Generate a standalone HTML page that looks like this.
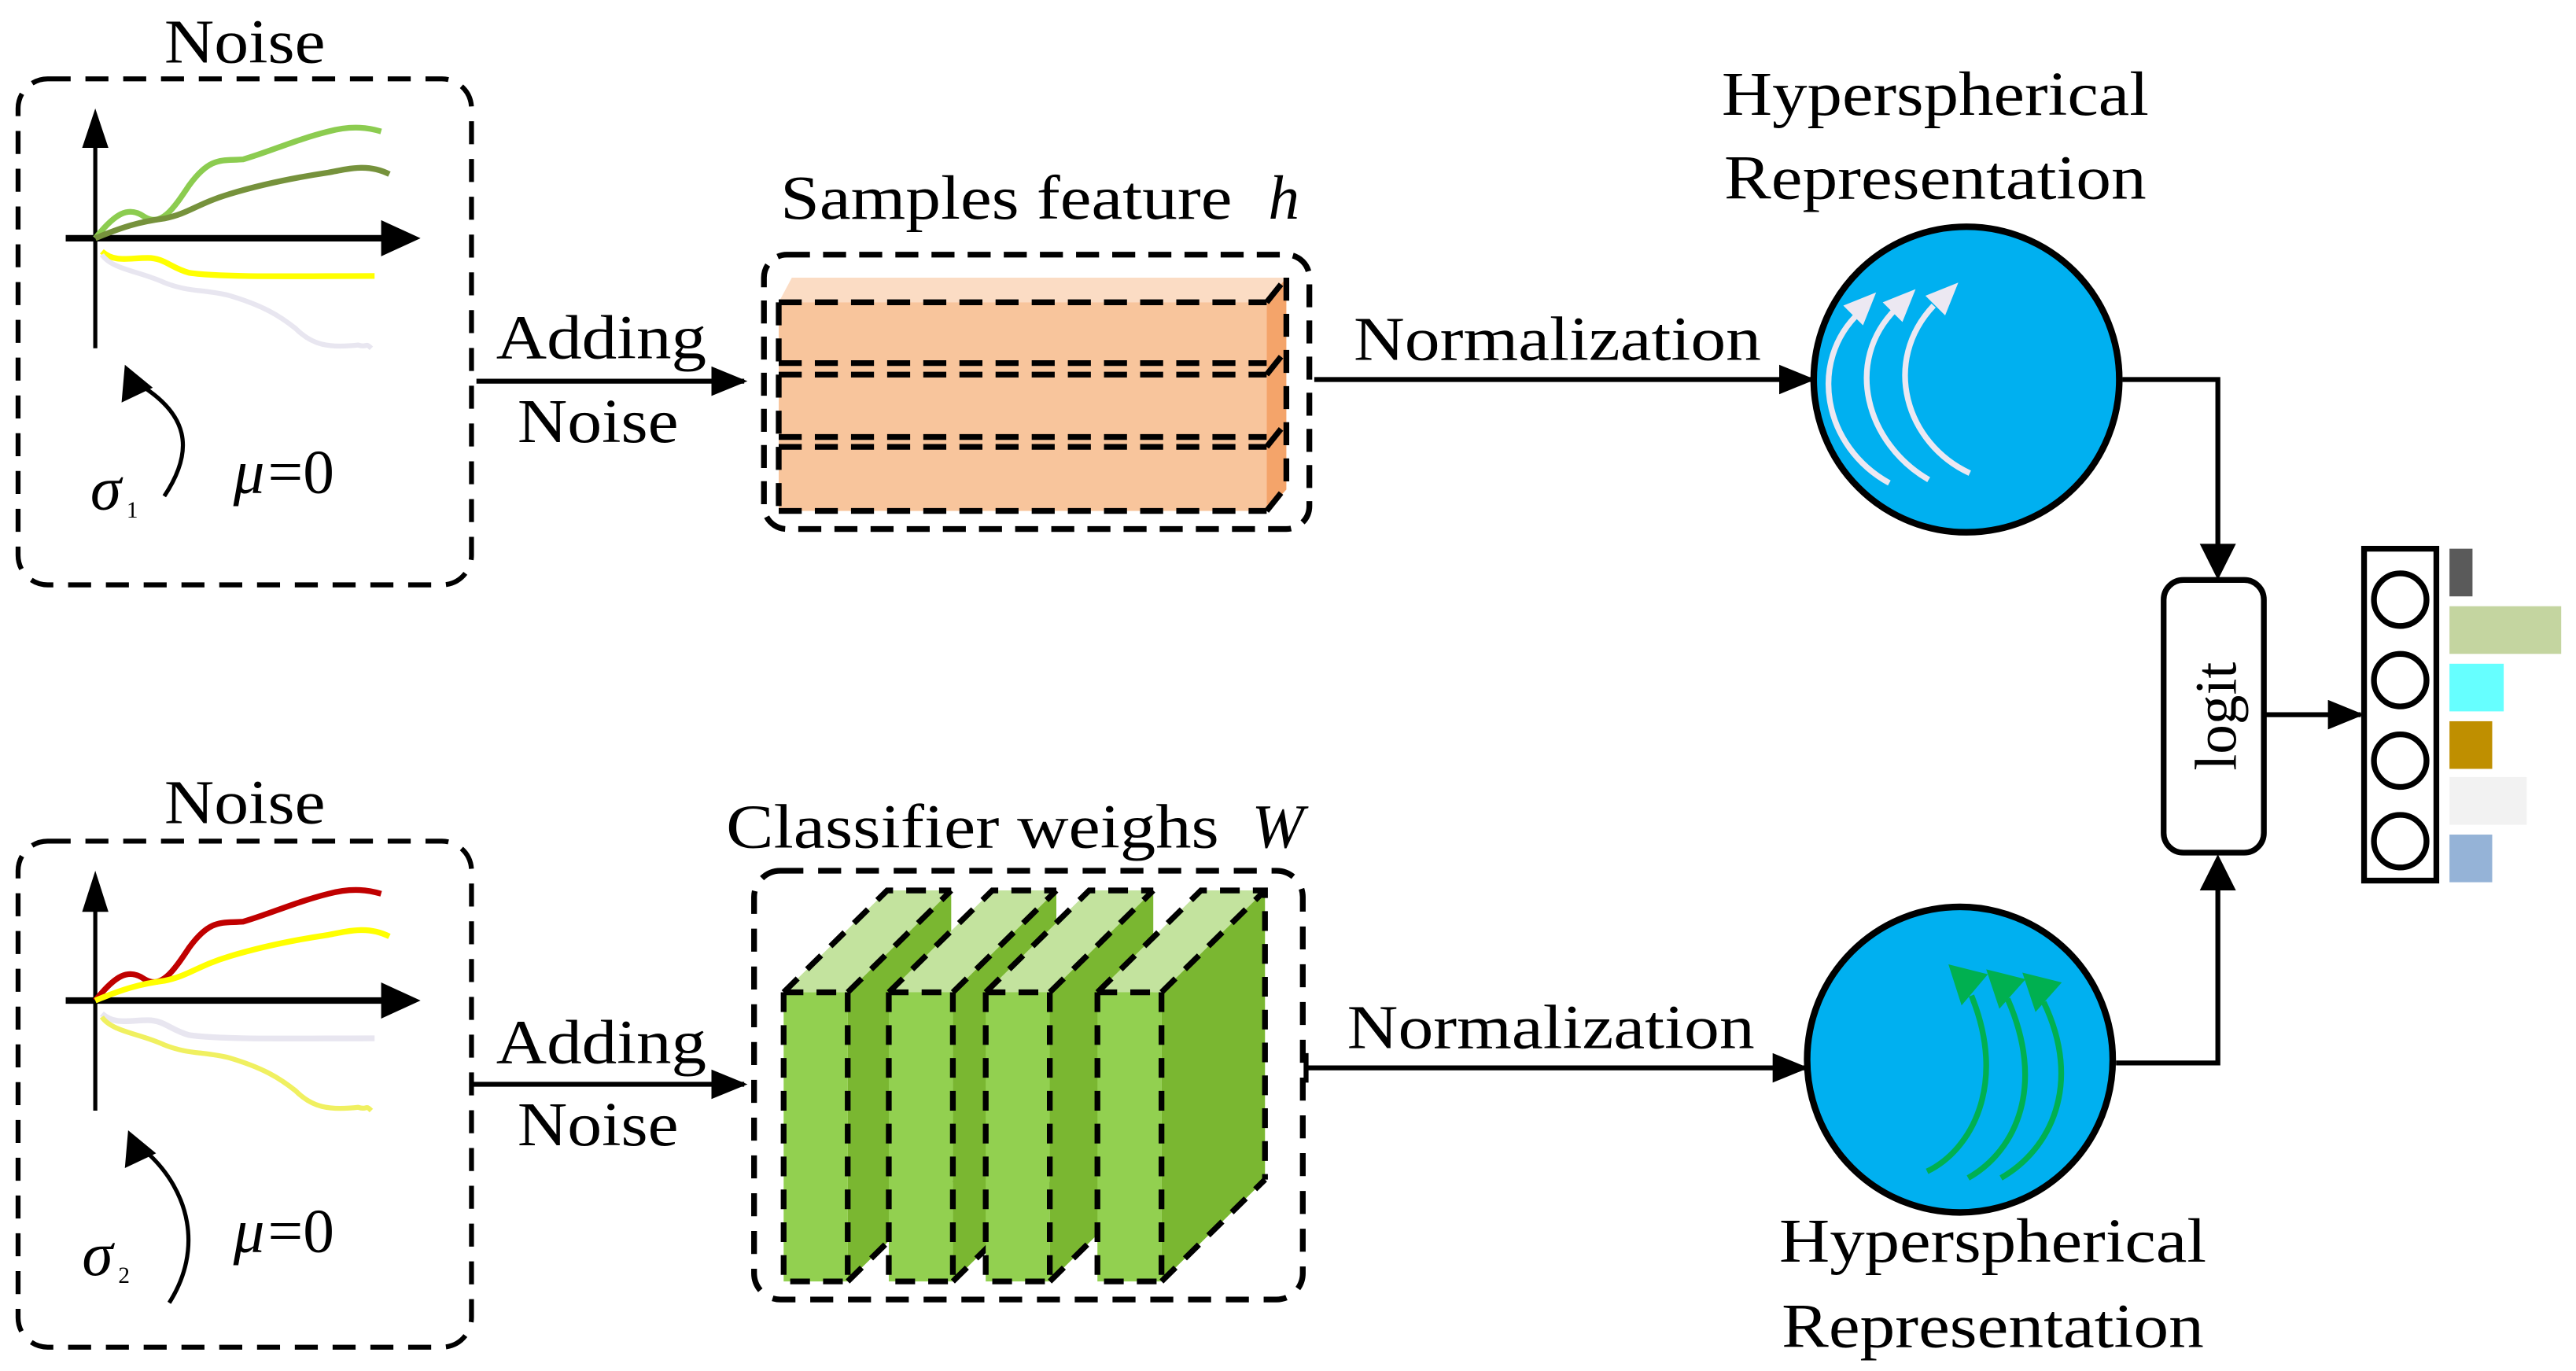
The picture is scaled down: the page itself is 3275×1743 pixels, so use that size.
<!DOCTYPE html>
<html><head><style>html,body{margin:0;padding:0;background:#fff}svg{display:block}text{font-family:"Liberation Serif","Times New Roman",serif;fill:#000}</style></head>
<body>
<svg width="3275" height="1743" viewBox="0 0 1568 834.5" xmlns="http://www.w3.org/2000/svg">
<defs>
<marker id="ah" markerWidth="22" markerHeight="18" refX="20" refY="9" orient="auto" markerUnits="userSpaceOnUse" viewBox="0 0 22 18"><path d="M0,0 L22,9 L0,18z" fill="#000"/></marker>
</defs>
<g font-size="38">
<!-- TOP NOISE -->
<text x="149" y="38" text-anchor="middle" textLength="98" lengthAdjust="spacingAndGlyphs">Noise</text>
<rect x="11" y="48" width="276" height="308" rx="18" fill="none" stroke="#000" stroke-width="3" stroke-dasharray="14,9"/>
<line x1="58" y1="212" x2="58" y2="85" stroke="#000" stroke-width="2.5"/>
<path d="M50,90 L58,66 L66,90z"/>
<line x1="40" y1="145" x2="236" y2="145" stroke="#000" stroke-width="4"/>
<path d="M232,134 L256,145 L232,156z"/>
<path d="M58,145 C70,130 78,125 88,132 C98,138 105,128 115,113 C128,95 135,98 148,97 C165,92 180,85 200,80 C215,76 225,78 232,80" fill="none" stroke="#8ccc50" stroke-width="3.5"/>
<path d="M58,145 C75,138 85,135 100,133 C115,130 120,124 140,118 C160,112 180,108 200,105 C215,102 225,100 237,106" fill="none" stroke="#76923c" stroke-width="3.5"/>
<path d="M62,153 C70,160 78,157 90,157 C100,157 104,163 115,166 C135,169 180,168 228,168" fill="none" stroke="#ffff00" stroke-width="3.5"/>
<path d="M62,155 C68,164 85,165 100,172 C115,178 125,176 140,180 C160,186 170,192 180,200 C190,210 200,212 218,210 C224,212 222,208 226,212" fill="none" stroke="#e8e6f0" stroke-width="3"/>
<path d="M100,302 C120,272 112,252 88,236" fill="none" stroke="#000" stroke-width="2.5"/>
<path d="M76,222 L74,245 L93,236z"/>
<text x="55" y="310" font-style="italic">σ</text><text x="77" y="315" font-size="14">1</text>
<text x="142" y="300" font-style="italic">μ</text><text x="163" y="300">=0</text>

<!-- BOTTOM NOISE -->
<text x="149" y="501" text-anchor="middle" textLength="98" lengthAdjust="spacingAndGlyphs">Noise</text>
<rect x="11" y="512" width="276" height="308" rx="18" fill="none" stroke="#000" stroke-width="3" stroke-dasharray="14,9"/>
<line x1="58" y1="676" x2="58" y2="550" stroke="#000" stroke-width="2.5"/>
<path d="M50,555 L58,530 L66,555z"/>
<line x1="40" y1="609" x2="236" y2="609" stroke="#000" stroke-width="4"/>
<path d="M232,598 L256,609 L232,620z"/>
<path d="M58,609 C70,594 78,589 88,596 C98,602 105,592 115,577 C128,559 135,562 148,561 C165,556 180,549 200,544 C215,540 225,542 232,544" fill="none" stroke="#c00000" stroke-width="3.5"/>
<path d="M58,609 C75,602 85,599 100,597 C115,594 120,588 140,582 C160,576 180,572 200,569 C215,566 225,564 237,570" fill="none" stroke="#ffff00" stroke-width="3.5"/>
<path d="M62,617 C70,624 78,621 90,621 C100,621 104,627 115,630 C135,633 180,632 228,632" fill="none" stroke="#e8e6f0" stroke-width="3.5"/>
<path d="M62,619 C68,628 85,629 100,636 C115,642 125,640 140,644 C160,650 170,656 180,664 C190,674 200,676 218,674 C224,676 222,672 226,676" fill="none" stroke="#f0f060" stroke-width="3"/>
<path d="M103,793 C124,760 115,725 90,702" fill="none" stroke="#000" stroke-width="2.5"/>
<path d="M78,688 L76,711 L95,702z"/>
<text x="50" y="776" font-style="italic">σ</text><text x="72" y="781" font-size="14">2</text>
<text x="142" y="762" font-style="italic">μ</text><text x="163" y="762">=0</text>

<!-- Adding noise arrows -->
<text x="366" y="218" text-anchor="middle" textLength="128" lengthAdjust="spacingAndGlyphs">Adding</text>
<text x="364" y="269" text-anchor="middle" textLength="98" lengthAdjust="spacingAndGlyphs">Noise</text>
<line x1="290" y1="232" x2="453" y2="232" stroke="#000" stroke-width="3" marker-end="url(#ah)"/>
<text x="366" y="647" text-anchor="middle" textLength="128" lengthAdjust="spacingAndGlyphs">Adding</text>
<text x="364" y="697" text-anchor="middle" textLength="98" lengthAdjust="spacingAndGlyphs">Noise</text>
<line x1="288" y1="660" x2="453" y2="660" stroke="#000" stroke-width="3" marker-end="url(#ah)"/>

<!-- Samples feature -->
<text x="475" y="133" textLength="275" lengthAdjust="spacingAndGlyphs">Samples feature</text>
<text x="772" y="133" font-style="italic">h</text>
<rect x="465" y="155" width="332" height="167" rx="14" fill="none" stroke="#000" stroke-width="3.5" stroke-dasharray="14,8"/>
<polygon points="474,184 482,169 783,169 771,184" fill="#fbdcc4"/>
<rect x="474" y="184" width="297" height="127" fill="#f8c59c"/>
<polygon points="771,184 783,169 783,298 771,311" fill="#f4a46a"/>
<g fill="none" stroke="#000" stroke-width="3.5" stroke-dasharray="14,8">
<line x1="474" y1="184" x2="771" y2="184"/>
<line x1="474" y1="221" x2="771" y2="221"/>
<line x1="474" y1="228" x2="771" y2="228"/>
<line x1="474" y1="266" x2="771" y2="266"/>
<line x1="474" y1="272" x2="771" y2="272"/>
<line x1="474" y1="311" x2="771" y2="311"/>
<line x1="474" y1="184" x2="474" y2="311"/>
<line x1="771" y1="184" x2="783" y2="169"/>
<line x1="771" y1="228" x2="783" y2="213"/>
<line x1="771" y1="272" x2="783" y2="257"/>
<line x1="771" y1="311" x2="783" y2="296"/>
<line x1="783" y1="169" x2="783" y2="296"/>
</g>

<!-- Classifier weights -->
<text x="442" y="516" textLength="300" lengthAdjust="spacingAndGlyphs">Classifier weighs</text>
<text x="762" y="516" font-style="italic">W</text>
<rect x="459" y="530" width="334" height="261" rx="16" fill="none" stroke="#000" stroke-width="3.5" stroke-dasharray="14,9"/>
<g stroke="#000" stroke-width="3.5" stroke-dasharray="12,8">
<g>
<polygon points="477,604 516,604 579,542 540,542" fill="#c3e39e" stroke="none"/>
<polygon points="516,604 579,542 579,718 516,780" fill="#7ab731" stroke="none"/>
<rect x="477" y="604" width="39" height="176" fill="#92d050" stroke="none"/>
<path d="M477,604 H516 M477,604 V780 H516 M516,604 V780 M516,604 L579,542 M516,780 L579,718 M477,604 L540,542 H579" fill="none"/>
</g>
<g>
<polygon points="541,604 580,604 643,542 604,542" fill="#c3e39e" stroke="none"/>
<polygon points="580,604 643,542 643,718 580,780" fill="#7ab731" stroke="none"/>
<rect x="541" y="604" width="39" height="176" fill="#92d050" stroke="none"/>
<path d="M541,604 H580 M541,604 V780 H580 M580,604 V780 M580,604 L643,542 M580,780 L643,718 M541,604 L604,542 H643" fill="none"/>
</g>
<g>
<polygon points="600,604 639,604 702,542 663,542" fill="#c3e39e" stroke="none"/>
<polygon points="639,604 702,542 702,718 639,780" fill="#7ab731" stroke="none"/>
<rect x="600" y="604" width="39" height="176" fill="#92d050" stroke="none"/>
<path d="M600,604 H639 M600,604 V780 H639 M639,604 V780 M639,604 L702,542 M639,780 L702,718 M600,604 L663,542 H702" fill="none"/>
</g>
<g>
<polygon points="668,604 707,604 770,542 731,542" fill="#c3e39e" stroke="none"/>
<polygon points="707,604 770,542 770,718 707,780" fill="#7ab731" stroke="none"/>
<rect x="668" y="604" width="39" height="176" fill="#92d050" stroke="none"/>
<path d="M668,604 H707 M668,604 V780 H707 M707,604 V780 M707,604 L770,542 M707,780 L770,718 M668,604 L731,542 H770 V718" fill="none"/>
</g>
</g>

<!-- Normalization -->
<text x="824" y="219" textLength="248" lengthAdjust="spacingAndGlyphs">Normalization</text>
<line x1="800" y1="231" x2="1103" y2="231" stroke="#000" stroke-width="3" marker-end="url(#ah)"/>
<text x="820" y="638" textLength="248" lengthAdjust="spacingAndGlyphs">Normalization</text>
<line x1="795" y1="650" x2="1099" y2="650" stroke="#000" stroke-width="3" marker-end="url(#ah)"/>
<line x1="795" y1="641" x2="795" y2="659" stroke="#000" stroke-width="3"/>

<!-- Top sphere -->
<text x="1178" y="70" text-anchor="middle" textLength="260" lengthAdjust="spacingAndGlyphs">Hyperspherical</text>
<text x="1178" y="121" text-anchor="middle" textLength="257" lengthAdjust="spacingAndGlyphs">Representation</text>
<circle cx="1197" cy="231" r="93" fill="#00b0f0" stroke="#000" stroke-width="4"/>
<g fill="none" stroke="#ece8f2" stroke-width="3.5">
<path d="M1150,294 C1110,272 1100,220 1132,190"/>
<path d="M1174,292 C1136,270 1122,220 1154,188"/>
<path d="M1199,288 C1160,270 1145,220 1177,186"/>
</g>
<g fill="#ece8f2">
<path d="M1142,178 L1122,186 L1134,198z"/>
<path d="M1166,176 L1146,184 L1158,196z"/>
<path d="M1192,172 L1172,180 L1184,192z"/>
</g>
<path d="M1292,231 H1350 V335" fill="none" stroke="#000" stroke-width="3"/>
<path d="M1339,331 L1350,353 L1361,331z"/>

<!-- Bottom sphere -->
<circle cx="1193" cy="645" r="93" fill="#00b0f0" stroke="#000" stroke-width="4"/>
<g fill="none" stroke="#00b050" stroke-width="3.5">
<path d="M1173,713 C1200,700 1222,660 1200,606"/>
<path d="M1198,717 C1228,700 1245,660 1222,608"/>
<path d="M1218,717 C1248,700 1268,660 1244,610"/>
</g>
<g fill="#00b050">
<path d="M1186,587 L1210,593 L1194,612z"/>
<path d="M1209,590 L1233,596 L1217,614z"/>
<path d="M1231,592 L1255,598 L1239,616z"/>
</g>
<text x="1213" y="768" text-anchor="middle" textLength="260" lengthAdjust="spacingAndGlyphs">Hyperspherical</text>
<text x="1213" y="820" text-anchor="middle" textLength="257" lengthAdjust="spacingAndGlyphs">Representation</text>
<path d="M1288,647 H1350 V538" fill="none" stroke="#000" stroke-width="3"/>
<path d="M1339,542 L1350,520 L1361,542z"/>

<!-- logit -->
<rect x="1317" y="353" width="61" height="166" rx="12" fill="#fff" stroke="#000" stroke-width="3.5"/>
<text x="0" y="0" transform="translate(1361,436) rotate(-90)" text-anchor="middle" font-size="36">logit</text>
<line x1="1378" y1="435" x2="1437" y2="435" stroke="#000" stroke-width="3" marker-end="url(#ah)"/>

<!-- output -->
<rect x="1439" y="334" width="44" height="202" fill="#fff" stroke="#000" stroke-width="3.5"/>
<g fill="none" stroke="#000" stroke-width="3.5">
<circle cx="1461" cy="365" r="16"/>
<circle cx="1461" cy="414" r="16"/>
<circle cx="1461" cy="463" r="16"/>
<circle cx="1461" cy="512" r="16"/>
</g>
<rect x="1491" y="334" width="14" height="29" fill="#5a5a5a"/>
<rect x="1491" y="369" width="68" height="29" fill="#c4d5a0"/>
<rect x="1491" y="404" width="33" height="29" fill="#66ffff"/>
<rect x="1491" y="439" width="26" height="29" fill="#bf8f00"/>
<rect x="1491" y="473" width="47" height="29" fill="#f2f2f2"/>
<rect x="1491" y="508" width="26" height="29" fill="#95b3d7"/>
</g>
</svg>
</body></html>
